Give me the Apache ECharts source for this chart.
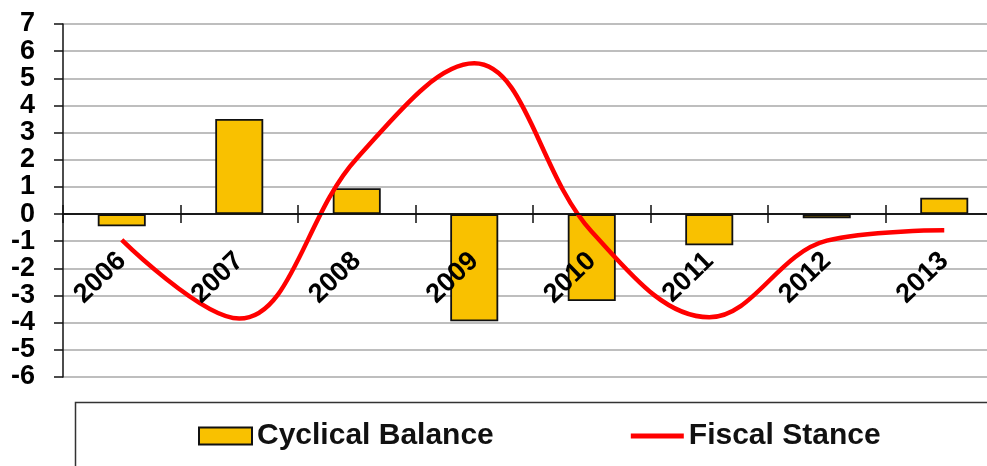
<!DOCTYPE html>
<html><head><meta charset="utf-8">
<script src="https://cdn.jsdelivr.net/npm/echarts@6/dist/echarts.min.js"></script>
<style>html,body{margin:0;padding:0;background:#fff}#c{width:987px;height:466px}</style>
</head><body><div id="c"></div>
<script>
var years = ['2006','2007','2008','2009','2010','2011','2012','2013'];
var cyclicalBalance = [-0.45, 3.5, 0.95, -3.95, -3.2, -1.15, -0.15, 0.6];
var fiscalStance = [-0.95, -3.85, 2.05, 5.55, -0.65, -3.8, -0.98, -0.6];
var yMin = -6, yMax = 7, yInterval = 1;

var gridTop = 24, gridHeight = 353, gridLeft = 63, gridWidth = 940;
var zeroFromTop = (yMax - 0) / (yMax - yMin) * gridHeight;
var zeroFromBottom = gridHeight - zeroFromTop;

var chart = echarts.init(document.getElementById('c'), null, {renderer: 'canvas'});
var font = 'Liberation Sans, Arial, sans-serif';
chart.setOption({
  animation: false,
  backgroundColor: '#fff',
  grid: {left: gridLeft, top: gridTop, width: gridWidth, height: gridHeight, containLabel: false, outerBoundsMode: 'none'},
  legend: {
    left: 198, top: 421, padding: 0, itemGap: 137,
    itemWidth: 53, itemHeight: 17,
    textStyle: {fontFamily: font, fontWeight: 'bold', fontSize: 30, color: '#111'},
    data: [
      {name: 'Cyclical Balance', icon: 'rect'},
      {name: 'Fiscal Stance', icon: 'path://M0,0 L53,0 L53,5 L0,5 Z', itemStyle: {color: '#ff0000'}}
    ]
  },
  xAxis: [{
    type: 'category', data: years, position: 'bottom', offset: -zeroFromBottom, z: 10,
    axisLine: {onZero: false, lineStyle: {color: '#111', width: 1.5}},
    axisTick: {show: true, length: 9, lineStyle: {color: '#111', width: 1.5}},
    axisLabel: {rotate: 44, margin: 43, fontFamily: font, fontWeight: 'bold', fontSize: 27, color: '#000'},
    splitLine: {show: false}
  }, {
    type: 'category', data: years, position: 'top', offset: -zeroFromTop, z: 10,
    axisLine: {onZero: false, lineStyle: {color: '#111', width: 1.5}},
    axisTick: {show: true, length: 9, lineStyle: {color: '#111', width: 1.5}},
    axisLabel: {show: false},
    splitLine: {show: false}
  }],
  yAxis: {
    type: 'value', min: yMin, max: yMax, interval: yInterval,
    axisLine: {show: true, onZero: false, lineStyle: {color: '#111', width: 1.5}},
    axisTick: {show: true, length: 9, lineStyle: {color: '#111', width: 1.5}},
    axisLabel: {margin: 28, fontFamily: font, fontWeight: 'bold', fontSize: 27, color: '#000',
      showMinLabel: true, showMaxLabel: true, hideOverlap: false},
    splitLine: {show: true, lineStyle: {color: '#a8a8a8', width: 1.5}}
  },
  series: [{
    name: 'Cyclical Balance', type: 'bar', data: cyclicalBalance, barWidth: 48,
    itemStyle: {color: '#F9C100', borderColor: '#111', borderWidth: 1.8}
  }, {
    name: 'Fiscal Stance', type: 'line', data: fiscalStance, smooth: 0.38,
    symbol: 'none', lineStyle: {color: '#ff0000', width: 4.5}, itemStyle: {color: '#ff0000'}, z: 5
  }],
  graphic: [{
    type: 'rect', left: 73, top: 400, silent: true,
    shape: {width: 1000, height: 100},
    style: {fill: 'none', stroke: '#333', lineWidth: 1.5}
  }]
});
</script></body></html>
